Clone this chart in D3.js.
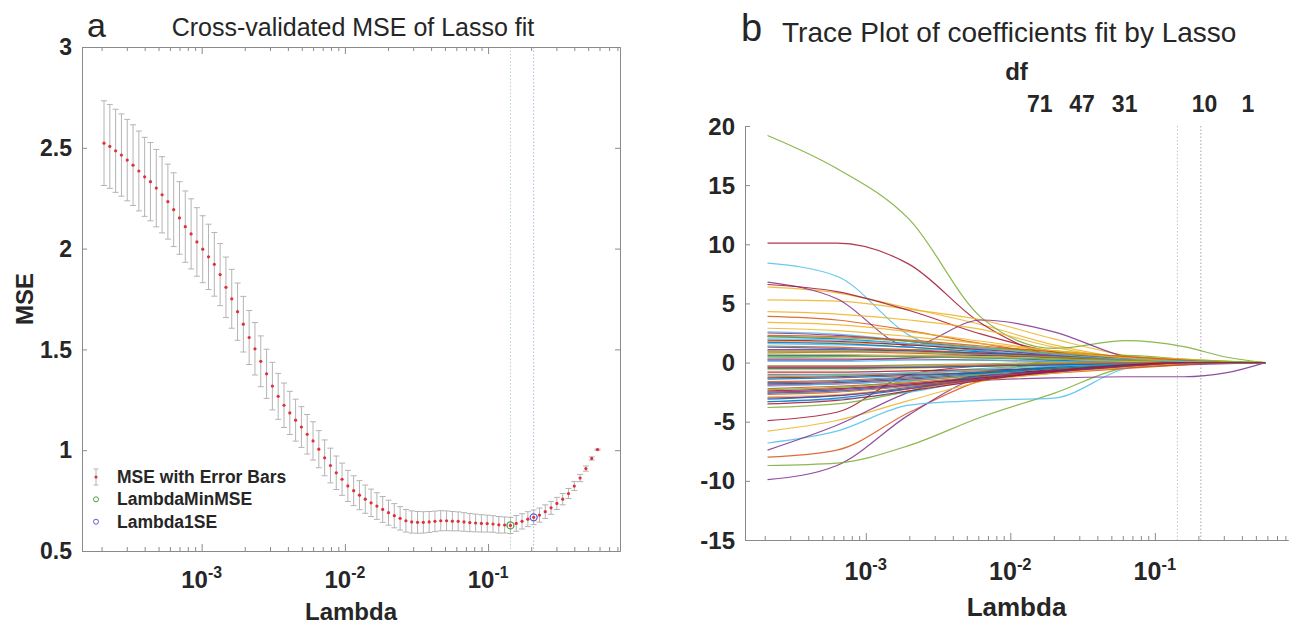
<!DOCTYPE html>
<html>
<head>
<meta charset="utf-8">
<title>Lasso CV</title>
<script src="https://cdn.jsdelivr.net/npm/d3@7"></script>
<style>
  body { margin: 0; background: #fff; }
  text { font-family: "Liberation Sans", Arial, sans-serif; fill: #262626; }
</style>
</head>
<body>
<svg width="1295" height="625" id="fig"></svg>
<script>
// lambda grid used by the lasso fit (geometric sequence, same in both panels)
const lambdaMin = 2.08e-4, lambdaMax = 0.581, nLambda = 86;
const lambdas = d3.range(nLambda).map(i => lambdaMin * Math.pow(lambdaMax / lambdaMin, i / (nLambda - 1)));

// cross-validated MSE at each lambda
const mse = [
  2.523, 2.507, 2.485, 2.464, 2.439, 2.414, 2.385, 2.356, 2.332, 2.300,
  2.267, 2.233, 2.193, 2.152, 2.109, 2.073, 2.033, 1.997, 1.959, 1.922,
  1.871, 1.808, 1.751, 1.687, 1.625, 1.559, 1.503, 1.441, 1.379, 1.318,
  1.267, 1.223, 1.185, 1.149, 1.115, 1.079, 1.046, 1.005, 0.962, 0.924,
  0.888, 0.856, 0.823, 0.799, 0.777, 0.757, 0.739, 0.723, 0.706, 0.690,
  0.675, 0.662, 0.650, 0.644, 0.642, 0.642, 0.644, 0.647, 0.650, 0.650,
  0.648, 0.647, 0.644, 0.641, 0.639, 0.637, 0.636, 0.634, 0.630, 0.629,
  0.627, 0.637, 0.647, 0.658, 0.667, 0.678, 0.695, 0.714, 0.736, 0.757,
  0.785, 0.822, 0.862, 0.909, 0.959, 1.003
];
// standard error of the MSE (half length of each error bar)
const mseSE = [
  0.210, 0.208, 0.206, 0.204, 0.202, 0.200, 0.198, 0.196, 0.194, 0.192,
  0.189, 0.186, 0.183, 0.180, 0.177, 0.174, 0.170, 0.166, 0.162, 0.158,
  0.154, 0.150, 0.146, 0.142, 0.138, 0.134, 0.130, 0.126, 0.122, 0.118,
  0.114, 0.110, 0.107, 0.104, 0.101, 0.098, 0.095, 0.092, 0.089, 0.086,
  0.083, 0.080, 0.077, 0.074, 0.072, 0.070, 0.068, 0.066, 0.064, 0.062,
  0.060, 0.058, 0.056, 0.055, 0.054, 0.053, 0.052, 0.051, 0.050, 0.049,
  0.048, 0.047, 0.046, 0.045, 0.044, 0.043, 0.042, 0.041, 0.041, 0.040,
  0.040, 0.039, 0.038, 0.037, 0.036, 0.035, 0.034, 0.032, 0.030, 0.028,
  0.025, 0.022, 0.018, 0.013, 0.008, 0.003
];
const idxMinMSE = 70;
const idx1SE = 74;

// coefficient traces (panel b), values at these lambdas
const traceLambda = [2.09e-4, 6.31e-4, 2.0e-3, 6.31e-3, 2.0e-2, 6.31e-2, 0.158, 0.316, 0.581];
const coefTraces = [
  [2.2, 2.0, 1.6, 1.0, 0.5, 0.1, 0, 0, 0],
  [-8.0, -7.4, -4.2, -1.5, -0.5, -0.1, 0, 0, 0],
  [6.4, 5.9, 4.6, 3.2, 1.5, 0.4, 0.1, 0, 0],
  [-9.9, -8.7, -4.4, -1.2, -0.4, -0.1, 0, 0, 0],
  [19.2, 16.4, 12.1, 3.8, 1.2, 1.85, 1.35, 0.45, 0],
  [8.4, 7.3, 2.3, 0.6, 0.2, 0, 0, 0, 0],
  [10.1, 10.1, 8.3, 3.3, 0.6, 0.1, 0, 0, 0],
  [-3.1, -2.8, -2.1, -1.3, -0.6, -0.2, 0, 0, 0],
  [3.9, 3.6, 2.7, 1.6, 0.7, 0.2, 0, 0, 0],
  [5.3, 5.2, 4.5, 3.6, 2.0, 0.6, 0.1, 0, 0],
  [6.8, 5.4, 1.4, 3.6, 2.6, 0.5, 0, 0, 0],
  [-8.7, -8.5, -7.0, -4.6, -2.6, -0.4, 0, 0, 0],
  [-6.8, -5.8, -3.6, -3.2, -3.0, -0.5, 0, 0, 0],
  [6.6, 6.0, 4.4, 2.4, 0.9, 0.2, 0, 0, 0],
  [1.3, 1.2, 1.0, 0.7, 0.4, 0.1, 0, 0, 0],
  [-1.6, -1.5, -1.2, -0.8, -0.4, -0.1, 0, 0, 0],
  [-5.8, -4.9, -3.2, -1.6, -0.6, -0.1, 0, 0, 0],
  [-7.4, -5.3, -2.5, -1.0, -0.3, 0, 0, 0, 0],
  [0.8, 0.9, 1.1, 1.2, 1.0, 0.5, 0.2, 0, 0],
  [-3.3, -3.1, -2.5, -1.4, -0.7, -0.2, 0, 0, 0],
  [-4.9, -4.2, -1.0, -0.3, -0.1, 0, 0, 0, 0],
  [-2.6, -2.4, -1.9, -1.2, -0.7, -0.3, -0.1, 0, 0],
  [-2.2, -2.0, -1.7, -1.2, -0.8, -0.4, -0.1, 0, 0],
  [4.3, 4.1, 3.6, 2.8, 1.3, 0.3, 0, 0, 0],
  [-2.5, -2.3, -1.9, -1.5, -1.3, -1.2, -1.2, -0.85, 0],
  [-3.8, -3.5, -2.4, -1.0, 0.2, 0.6, 0.3, 0.1, 0],
  [2.6, 2.4, 1.8, 1.0, 0.6, 0.3, 0.1, 0, 0],
  [-1.8, -1.7, -1.4, -1.0, -0.6, -0.2, 0, 0, 0],
  [0.6, 0.6, 0.5, 0.4, 0.2, 0.1, 0, 0, 0],
  [-1.0, -1.0, -0.9, -0.7, -0.5, -0.3, -0.1, 0, 0],
  [1.8, 1.7, 1.5, 1.2, 0.8, 0.5, 0.3, 0.1, 0],
  [2.5, 2.3, 1.8, 1.2, 0.6, 0.2, 0, 0, 0],
  [-1.2, -1.1, -0.9, -0.5, -0.2, 0, 0, 0, 0],
  [1.6, 1.5, 1.3, 0.9, 0.6, 0.3, 0.1, 0, 0],
  [-1.3, -1.2, -1.0, -0.9, -0.7, -0.4, -0.1, 0, 0],
  [-3.3, -3.0, -2.2, -1.1, -0.4, -0.1, 0, 0, 0],
  [0.9, 0.9, 0.8, 0.6, 0.4, 0.2, 0.05, 0, 0],
  [-0.6, -0.6, -0.5, -0.3, -0.1, 0, 0, 0, 0],
  [-1.9, -1.8, -1.5, -1.1, -0.7, -0.4, -0.2, -0.1, 0],
  [2.2, 2.1, 1.8, 1.3, 0.8, 0.4, 0.2, 0.1, 0],
  [-2.0, -1.8, -1.5, -1.0, -0.5, -0.2, 0, 0, 0],
  [0.3, 0.3, 0.3, 0.2, 0.1, 0, 0, 0, 0],
  [1.7, 1.6, 1.3, 0.9, 0.5, 0.2, 0, 0, 0],
  [-2.7, -2.5, -2.0, -1.4, -0.9, -0.5, -0.2, 0, 0],
  [2.9, 2.7, 2.2, 1.6, 1.0, 0.5, 0.2, 0, 0],
  [0.2, 0.2, 0.4, 0.6, 0.5, 0.3, 0.1, 0, 0],
  [-0.3, -0.3, -0.2, -0.1, 0, 0, 0, 0, 0],
  [0.4, 0.5, 0.6, 0.5, 0.3, 0.1, 0, 0, 0],
  [-0.8, -0.8, -0.7, -0.6, -0.5, -0.3, -0.1, 0, 0],
  [-1.4, -1.3, -1.1, -0.8, -0.4, -0.1, 0, 0, 0],
  [1.4, 1.3, 1.1, 0.8, 0.5, 0.2, 0, 0, 0],
  [0.7, 0.7, 0.6, 0.5, 0.3, 0.1, 0, 0, 0],
  [-0.4, -0.4, -0.4, -0.3, -0.2, -0.1, 0, 0, 0],
  [1.0, 1.0, 0.9, 0.7, 0.5, 0.3, 0.1, 0, 0],
  [-1.1, -1.0, -0.9, -0.6, -0.3, -0.1, 0, 0, 0],
  [-2.4, -2.2, -1.8, -1.3, -0.8, -0.3, 0, 0, 0],
  [-0.5, -0.5, -0.4, -0.3, -0.2, -0.1, 0, 0, 0],
  [2.3, 2.2, 1.9, 1.4, 0.9, 0.5, 0.2, 0, 0],
  [-2.9, -2.7, -2.2, -1.5, -0.9, -0.4, -0.1, 0, 0],
  [1.1, 1.1, 1.0, 0.8, 0.6, 0.3, 0.1, 0, 0],
  [-2.3, -2.1, -1.6, -1.0, -0.5, -0.2, 0, 0, 0],
  [0.1, 0.1, 0.2, 0.2, 0.1, 0, 0, 0, 0],
  [1.9, 1.8, 1.5, 1.1, 0.7, 0.3, 0.1, 0, 0],
  [-1.7, -1.6, -1.3, -0.9, -0.5, -0.2, 0, 0, 0],
  [-0.3, -0.3, -0.3, -0.2, -0.1, 0, 0, 0, 0],
  [3.4, 3.2, 2.6, 1.8, 1.0, 0.4, 0.1, 0, 0],
  [-3.0, -2.8, -2.2, -1.4, -0.8, -0.3, 0, 0, 0],
  [0.5, 0.5, 0.5, 0.4, 0.3, 0.2, 0.1, 0, 0],
  [2.0, 1.9, 1.6, 1.2, 0.7, 0.3, 0.1, 0, 0],
  [-3.5, -3.2, -2.4, -1.5, -0.7, -0.2, 0, 0, 0]
];

// degrees of freedom shown on the top of panel b
const dfLabels = ['71', '47', '31', '10', '1'];
const dfLambda = [0.016, 0.0313, 0.0618, 0.221, 0.44];

const xTickValues = [1e-3, 1e-2, 1e-1];
const xTickExp = ['-3', '-2', '-1'];
const yTicksA = [0.5, 1, 1.5, 2, 2.5, 3];
const yTicksB = [-15, -10, -5, 0, 5, 10, 15, 20];
const legendItems = ['MSE with Error Bars', 'LambdaMinMSE', 'Lambda1SE'];

// MATLAB default line colour order
const colorOrder = ['#0072BD', '#D95319', '#EDB120', '#7E2F8E', '#77AC30', '#4DBEEE', '#A2142F'];

const svg = d3.select('#fig');
const axisGrey = '#8a8a8a';
const xDomain = [1.46e-4, 0.834];

function styleAxis(g) {
  g.select('.domain').attr('stroke', axisGrey);
  g.selectAll('.tick line').attr('stroke', axisGrey);
}

// 10^n labels under a log axis
function powerLabels(parent, scale, baseline, fs) {
  const t = parent.append('g').selectAll('text').data(xTickValues).join('text')
    .attr('x', d => scale(d)).attr('y', baseline)
    .attr('text-anchor', 'middle').attr('font-size', fs).attr('font-weight', 'bold');
  t.append('tspan').text('10');
  t.append('tspan').attr('dy', -fs * 0.42).attr('font-size', fs * 0.66).text((d, i) => xTickExp[i]);
}

// bold numeric labels left of a y axis
function yLabels(parent, scale, ticks, x, fs) {
  parent.append('g').selectAll('text').data(ticks).join('text')
    .attr('x', x).attr('y', d => scale(d)).attr('dy', '0.36em')
    .attr('text-anchor', 'end').attr('font-size', fs).attr('font-weight', 'bold')
    .text(d => String(d));
}

// ================= panel a =================
const A = { left: 82, right: 620, top: 47, bottom: 551 };
const xA = d3.scaleLog().domain(xDomain).range([A.left, A.right]);
const yA = d3.scaleLinear().domain([0.5, 3]).range([A.bottom, A.top]);
const gA = svg.append('g');

// dotted lambda lines
gA.append('line')
  .attr('x1', xA(lambdas[idxMinMSE])).attr('x2', xA(lambdas[idxMinMSE]))
  .attr('y1', A.top).attr('y2', A.bottom)
  .attr('stroke', '#b6d6b6').attr('stroke-dasharray', '1.5,2');
gA.append('line')
  .attr('x1', xA(lambdas[idx1SE])).attr('x2', xA(lambdas[idx1SE]))
  .attr('y1', A.top).attr('y2', A.bottom)
  .attr('stroke', '#b4b4e6').attr('stroke-dasharray', '1.5,2');

// axes (ticks point inward, box on)
const minorA = xA.ticks().filter(d => !xTickValues.includes(d));
gA.append('g').attr('transform', `translate(0,${A.bottom})`)
  .call(d3.axisBottom(xA).tickValues(minorA).tickSize(-4).tickFormat('').tickSizeOuter(0)).call(styleAxis);
gA.append('g').attr('transform', `translate(0,${A.top})`)
  .call(d3.axisTop(xA).tickValues(minorA).tickSize(-4).tickFormat('').tickSizeOuter(0)).call(styleAxis);
gA.append('g').attr('transform', `translate(0,${A.top})`)
  .call(d3.axisTop(xA).tickValues(xTickValues).tickSize(-7).tickFormat('').tickSizeOuter(0)).call(styleAxis);
gA.append('g').attr('transform', `translate(0,${A.bottom})`)
  .call(d3.axisBottom(xA).tickValues(xTickValues).tickSize(-7).tickFormat('').tickSizeOuter(0)).call(styleAxis);
gA.append('g').attr('transform', `translate(${A.left},0)`)
  .call(d3.axisLeft(yA).tickValues(yTicksA).tickSize(-5).tickFormat('').tickSizeOuter(0)).call(styleAxis);
gA.append('g').attr('transform', `translate(${A.right},0)`)
  .call(d3.axisRight(yA).tickValues(yTicksA).tickSize(-5).tickFormat('').tickSizeOuter(0)).call(styleAxis);
powerLabels(gA, xA, A.bottom + 37, 24);
yLabels(gA, yA, yTicksA, A.left - 10, 23);

// error bars
const bars = gA.append('g').attr('stroke', '#b4b4b4').attr('stroke-width', 1);
lambdas.forEach((lam, i) => {
  const x = xA(lam);
  const y1 = yA(mse[i] + mseSE[i]), y2 = yA(mse[i] - mseSE[i]);
  bars.append('line').attr('x1', x).attr('x2', x).attr('y1', y1).attr('y2', y2);
  bars.append('line').attr('x1', x - 3).attr('x2', x + 3).attr('y1', y1).attr('y2', y1);
  bars.append('line').attr('x1', x - 3).attr('x2', x + 3).attr('y1', y2).attr('y2', y2);
});
gA.append('g').selectAll('circle').data(lambdas).join('circle')
  .attr('cx', d => xA(d)).attr('cy', (d, i) => yA(mse[i]))
  .attr('r', 1.6).attr('fill', '#e0303a');

gA.append('circle').attr('cx', xA(lambdas[idxMinMSE])).attr('cy', yA(mse[idxMinMSE]))
  .attr('r', 3.5).attr('fill', 'none').attr('stroke', '#4f9f4f').attr('stroke-width', 1.3);
gA.append('circle').attr('cx', xA(lambdas[idx1SE])).attr('cy', yA(mse[idx1SE]))
  .attr('r', 3.5).attr('fill', 'none').attr('stroke', '#6060d0').attr('stroke-width', 1.3);

// legend
const leg = gA.append('g').attr('transform', 'translate(96,477)');
leg.append('line').attr('x1', 0).attr('x2', 0).attr('y1', -8).attr('y2', 8).attr('stroke', '#b4b4b4');
leg.append('line').attr('x1', -2.5).attr('x2', 2.5).attr('y1', -8).attr('y2', -8).attr('stroke', '#b4b4b4');
leg.append('line').attr('x1', -2.5).attr('x2', 2.5).attr('y1', 8).attr('y2', 8).attr('stroke', '#b4b4b4');
leg.append('circle').attr('r', 1.6).attr('fill', '#e0303a');
leg.append('circle').attr('cy', 22.3).attr('r', 2.5).attr('fill', 'none').attr('stroke', '#4f9f4f');
leg.append('circle').attr('cy', 44.7).attr('r', 2.5).attr('fill', 'none').attr('stroke', '#6060d0');
leg.selectAll('text').data(legendItems).join('text')
  .attr('x', 21).attr('y', (d, i) => i * 22.3 + 6)
  .attr('font-size', 17.5).attr('font-weight', 'bold').text(d => d);

// labels
gA.append('text').attr('x', (A.left + A.right) / 2).attr('y', 620)
  .attr('text-anchor', 'middle').attr('font-size', 24).attr('font-weight', 'bold').text('Lambda');
gA.append('text').attr('transform', `translate(33,${(A.top + A.bottom) / 2}) rotate(-90)`)
  .attr('text-anchor', 'middle').attr('font-size', 24).attr('font-weight', 'bold').text('MSE');
gA.append('text').attr('x', (A.left + A.right) / 2 + 2).attr('y', 36)
  .attr('text-anchor', 'middle').attr('font-size', 25).text('Cross-validated MSE of Lasso fit');
gA.append('text').attr('x', 87).attr('y', 37).attr('font-size', 34).attr('fill', '#111').text('a');

// ================= panel b =================
const B = { left: 745, right: 1288, top: 126, bottom: 540 };
const xB = d3.scaleLog().domain(xDomain).range([B.left, B.right]);
const yB = d3.scaleLinear().domain([-15, 20]).range([B.bottom, B.top]);
const gB = svg.append('g');

const minorB = xB.ticks().filter(d => !xTickValues.includes(d));
gB.append('g').attr('transform', `translate(0,${B.bottom})`)
  .call(d3.axisBottom(xB).tickValues(minorB).tickSize(-4).tickFormat('').tickSizeOuter(0)).call(styleAxis);
gB.append('g').attr('transform', `translate(0,${B.bottom})`)
  .call(d3.axisBottom(xB).tickValues(xTickValues).tickSize(-7).tickFormat('').tickSizeOuter(0)).call(styleAxis);
gB.append('g').attr('transform', `translate(${B.left},0)`)
  .call(d3.axisLeft(yB).tickValues(yTicksB).tickSize(-5).tickFormat('').tickSizeOuter(0)).call(styleAxis);
powerLabels(gB, xB, B.bottom + 40, 25);
yLabels(gB, yB, yTicksB, B.left - 10, 24);

gB.append('line')
  .attr('x1', xB(lambdas[idxMinMSE])).attr('x2', xB(lambdas[idxMinMSE]))
  .attr('y1', B.top).attr('y2', B.bottom)
  .attr('stroke', '#bcccbc').attr('stroke-dasharray', '1.5,2');
gB.append('line')
  .attr('x1', xB(lambdas[idx1SE])).attr('x2', xB(lambdas[idx1SE]))
  .attr('y1', B.top).attr('y2', B.bottom)
  .attr('stroke', '#a4a4b6').attr('stroke-dasharray', '1.5,2');

const traceLine = d3.line()
  .x((d, i) => xB(traceLambda[i]))
  .y(d => yB(d))
  .curve(d3.curveMonotoneX);
gB.append('g').selectAll('path').data(coefTraces).join('path')
  .attr('d', traceLine)
  .attr('fill', 'none')
  .attr('stroke', (d, i) => colorOrder[i % colorOrder.length])
  .attr('stroke-width', 1.2)
  .attr('stroke-opacity', 0.85);

gB.selectAll('.df').data(dfLabels).join('text').attr('class', 'df')
  .attr('x', (d, i) => xB(dfLambda[i])).attr('y', 112)
  .attr('text-anchor', 'middle').attr('font-size', 23).attr('font-weight', 'bold').text(d => d);
gB.append('text').attr('x', (B.left + B.right) / 2).attr('y', 80)
  .attr('text-anchor', 'middle').attr('font-size', 24).attr('font-weight', 'bold').text('df');

gB.append('text').attr('x', (B.left + B.right) / 2).attr('y', 616)
  .attr('text-anchor', 'middle').attr('font-size', 26).attr('font-weight', 'bold').text('Lambda');
gB.append('text').attr('x', 782).attr('y', 42).attr('font-size', 28).text('Trace Plot of coefficients fit by Lasso');
gB.append('text').attr('x', 741).attr('y', 41).attr('font-size', 38).attr('fill', '#111').text('b');
</script>
</body>
</html>
